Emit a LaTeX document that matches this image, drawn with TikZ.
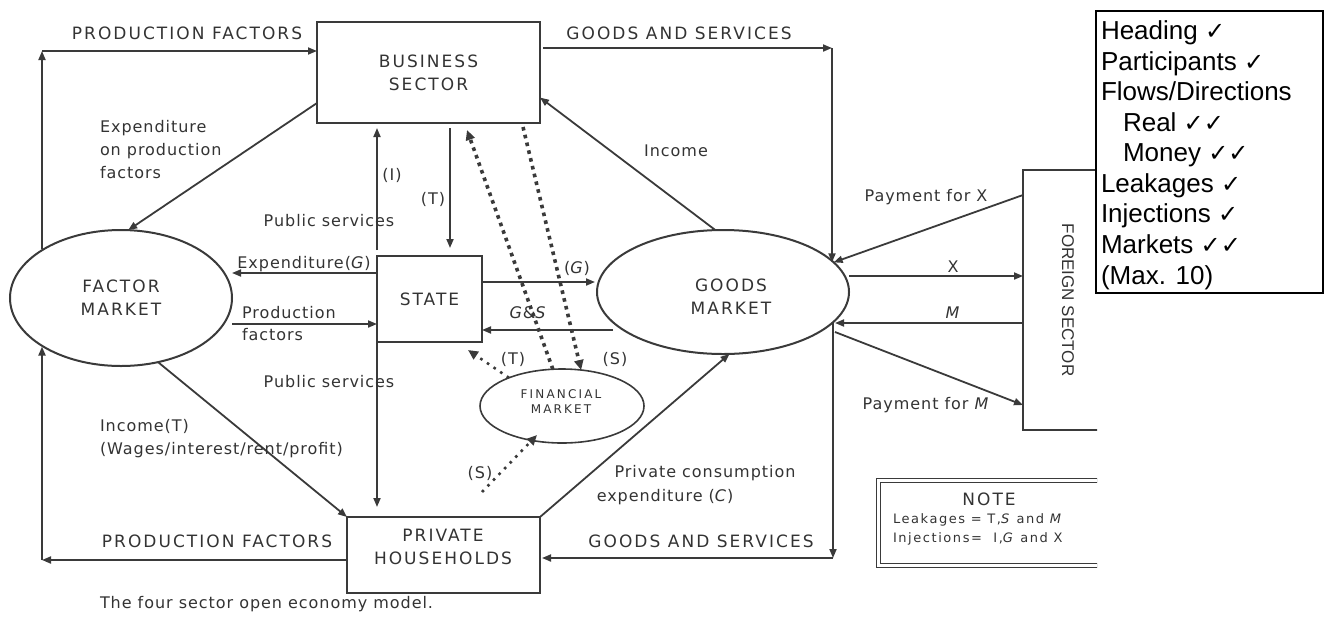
\documentclass[tikz,border=0pt]{standalone}
\usepackage{fontspec}
\usetikzlibrary{arrows.meta,shapes.geometric,calc}
\newfontfamily\capf[LetterSpace=12]{DejaVu Sans}
\newfontfamily\lowf[LetterSpace=6]{DejaVu Sans}
\newfontfamily\finf[LetterSpace=18]{DejaVu Sans}
\newfontfamily\arialf{Liberation Sans}
\newfontfamily\chkf{DejaVu Sans}
\newcommand\chkm{{\chkf\fontsize{12}{12}\selectfont ✓}}
\definecolor{ln}{HTML}{3A3A3A}
\definecolor{tx}{HTML}{333333}
\begin{document}
\begin{tikzpicture}[x=0.5pt,y=-0.5pt,
  every node/.style={inner sep=0pt, outer sep=0pt},
  box/.style={draw=ln, line width=1pt, rectangle},
  ell/.style={draw=ln, line width=1pt, ellipse},
  capt/.style={font=\capf\fontsize{8.5}{11.5}\selectfont, text=tx, align=center},
  lbl/.style={font=\lowf\fontsize{8}{11.5}\selectfont, text=tx, align=left},
  arr/.style={draw=ln, line width=0.9pt, -{Triangle[length=4.5pt,width=3.5pt]}},
  dotA/.style={draw=ln, line width=1.8pt, dash pattern=on 1.8pt off 2.2pt, -{Triangle[length=5pt,width=4.5pt]}},
  dotB/.style={draw=ln, line width=1.3pt, dash pattern=on 1.3pt off 2.7pt, -{Triangle[length=5pt,width=4.5pt]}},
  rub/.style={font=\arialf\fontsize{13}{15}\selectfont, anchor=base west, text=black},
]
\useasboundingbox (0,0) rectangle (1325,616);

% main nodes
\node[box, minimum width=111.5pt, minimum height=50.5pt, capt] (bs) at (428.5,72.5) {BUSINESS\\SECTOR};
\node[box, minimum width=52.5pt, minimum height=43pt, capt] (st) at (429.5,299) {STATE};
\node[box, minimum width=96.5pt, minimum height=38pt] (ph) at (443.5,555) {};
\node[capt] (phl) at (443,547) {PRIVATE\\HOUSEHOLDS};
\node[ell, minimum width=111pt, minimum height=68pt, capt] (fm) at (121,298) {FACTOR\\MARKET};
\node[ell, minimum width=126pt, minimum height=62pt] (gm) at (723,292) {};
\node[capt] (gml) at (731,297) {GOODS\\MARKET};
\node[ell, minimum width=82pt, minimum height=37pt, line width=0.8pt] (fin) at (562,406) {};
\node[font=\finf\fontsize{6}{7.5}\selectfont, text=tx, align=center] (finl) at (561,402) {FINANCIAL\\MARKET};

\begin{scope}
\clip (0,0) rectangle (1097,616);
\node[draw=ln, line width=0.6pt, minimum width=53.5pt, minimum height=130pt] (fs) at (1076.5,300) {};
\node[draw=ln, double, double distance=1.5pt, line width=0.5pt, minimum width=118.5pt, minimum height=42.5pt] (nb) at (996.5,522.5) {};
\end{scope}
\node[font=\arialf\fontsize{8.5}{10}\selectfont, text=tx, rotate=-90] (fsl) at (1068,300) {FOREIGN SECTOR};
\node[capt] (nt) at (989,499) {NOTE};
\node[font=\capf\fontsize{6.5}{8}\selectfont, text=tx, anchor=west] (nl) at (893,520) {Leakages = T,\textit{S} and \textit{M}};
\node[font=\capf\fontsize{6.5}{8}\selectfont, text=tx, anchor=west] (ni) at (893,539) {Injections=\ \ I,\textit{G} and X};

% outer loop
\coordinate (ctl) at (42,51);
\coordinate (ctr) at (832,48);
\coordinate (cbr) at (833,558);
\coordinate (cbl) at (42,560);
\draw[arr] (ctl |- fm.148.7) -- (ctl);
\draw[arr] (ctl) -- (ctl -| bs.west);
\draw[arr, shorten <=1.5pt] (ctr -| bs.east) -- (ctr);
\draw[arr] (ctr) -- (ctr |- gm.15.9);
\draw[arr] (cbr |- gm.-16.5) -- (cbr);
\draw[arr, shorten >=1pt] (cbr) -- (cbr -| ph.east);
\draw[arr] (cbl -| ph.west) -- (cbl);
\draw[arr] (cbl) -- (cbl |- fm.-148.7);

% inner flows
\draw[arr] ($(bs.south west)+(0,-20)$) -- (fm.84);
\draw[arr] (gm.97) -- ($(bs.east)+(0,25)$);
\draw[arr, shorten <=3pt, shorten >=2.5pt] (st.north west) -- (st.north west |- bs.south);
\coordinate (tx) at (450,0);
\draw[arr, shorten <=2.5pt, shorten >=4pt] (tx |- bs.south) -- (tx |- st.north);
\draw[arr, shorten >=5pt] (st.south west) -- (st.south west |- ph.north);
\coordinate (eg) at ($(st.north west)+(0,17)$);
\draw[arr] (eg) -- (eg -| fm.east);
\coordinate (pf) at ($(st.north west)+(0,68)$);
\draw[arr] (pf -| fm.east) -- (pf);
\coordinate (gg) at ($(st.north east)+(0,26)$);
\draw[arr, shorten >=1pt] (gg) -- (gg -| gm.west);
\coordinate (gs) at ($(st.north east)+(0,74)$);
\draw[arr] ($(gm.west)+(16,38)$) -- (gs);
\draw[arr] (ph.north east) -- (gm.-84);
\draw[arr] (fm.-60) -- (ph.north west);
\draw[arr] ($(fs.north west)+(0,25)$) -- (gm.15);
\coordinate (xx) at ($(fs.north west)+(0,106)$);
\draw[arr] (xx -| gm.east) -- (xx);
\draw[arr] ($(fs.north west)+(0,153)$) -- ($(gm.east)+(-14,31)$);
\draw[arr] ($(gm.east)+(-14,40)$) -- ($(fs.north west)+(0,235)$);

% dotted flows
\draw[dotA] (fin.104) -- ($(bs.south west)+(150,7)$);
\draw[dotA] ($(bs.south west)+(206,4)$) -- (fin.62);
\draw[dotB] (fin.152.6) -- ($(st.south east)+(-14,8)$);
\coordinate (sd) at (482,492);
\draw[dotB] (sd) -- ($(fin.center)+(-25,29)$);

% labels
\node[capt] (l1) at (187,33) {PRODUCTION FACTORS};
\node[capt] (l2) at (679,33) {GOODS AND SERVICES};
\node[capt] (l3) at (217,541) {PRODUCTION FACTORS};
\node[capt] (l4) at (701,541) {GOODS AND SERVICES};
\node[lbl, anchor=west] (l5) at (100,150) {Expenditure\\on production\\factors};
\node[lbl] (l6) at (676,151) {Income};
\node[lbl] (l7) at (392,175) {(I)};
\node[lbl] (l8) at (433,199) {(T)};
\node[lbl] (l9) at (329,221) {Public services};
\node[lbl] (l10) at (329,382) {Public services};
\node[lbl, anchor=south] (l11) at (304,272) {Expenditure(\textit{G})};
\node[lbl, anchor=west] (l12) at (242,313) {Production};
\node[lbl, anchor=west] (l13) at (242,335) {factors};
\node[lbl] (l14) at (577,268) {(\textit{G})};
\node[lbl] (l15) at (528,313) {\textit{G}\&\textit{S}};
\node[lbl] (l16) at (513,359) {(T)};
\node[lbl] (l17) at (615,359) {(S)};
\node[lbl] (l18) at (480,473) {(S)};
\node[lbl, anchor=west] (l19) at (100,439) {Income(T)\\(Wages/interest/rent/profit)};
\node[lbl] (l20) at (705,473) {Private consumption};
\node[lbl] (l21) at (665,497) {expenditure (\textit{C})};
\node[lbl] (l22) at (926,197) {Payment for X};
\node[lbl] (l23) at (953,267) {X};
\node[lbl] (l24) at (953,313) {\textit{M}};
\node[lbl] (l25) at (926,405) {Payment for \textit{M}};
\node[lbl, anchor=west] (cap) at (100,604) {The four sector open economy model.};

% rubric
\node[draw=black, line width=1pt, minimum width=113.5pt, minimum height=141pt, fill=white] (rb) at (1209.5,152) {};
\node[rub] (r1) at (1101,39) {Heading \chkm};
\node[rub] (r2) at (1101,70) {Participants \chkm};
\node[rub] (r3) at (1101,100) {Flows/Directions};
\node[rub] (r4) at (1123,131) {Real \chkm\chkm};
\node[rub] (r5) at (1123,161) {Money \chkm\chkm};
\node[rub] (r6) at (1101,192) {Leakages \chkm};
\node[rub] (r7) at (1101,222) {Injections \chkm};
\node[rub] (r8) at (1101,253) {Markets \chkm\chkm};
\node[rub] (r9) at (1101,284) {(Max. 10)};
\end{tikzpicture}
\end{document}
